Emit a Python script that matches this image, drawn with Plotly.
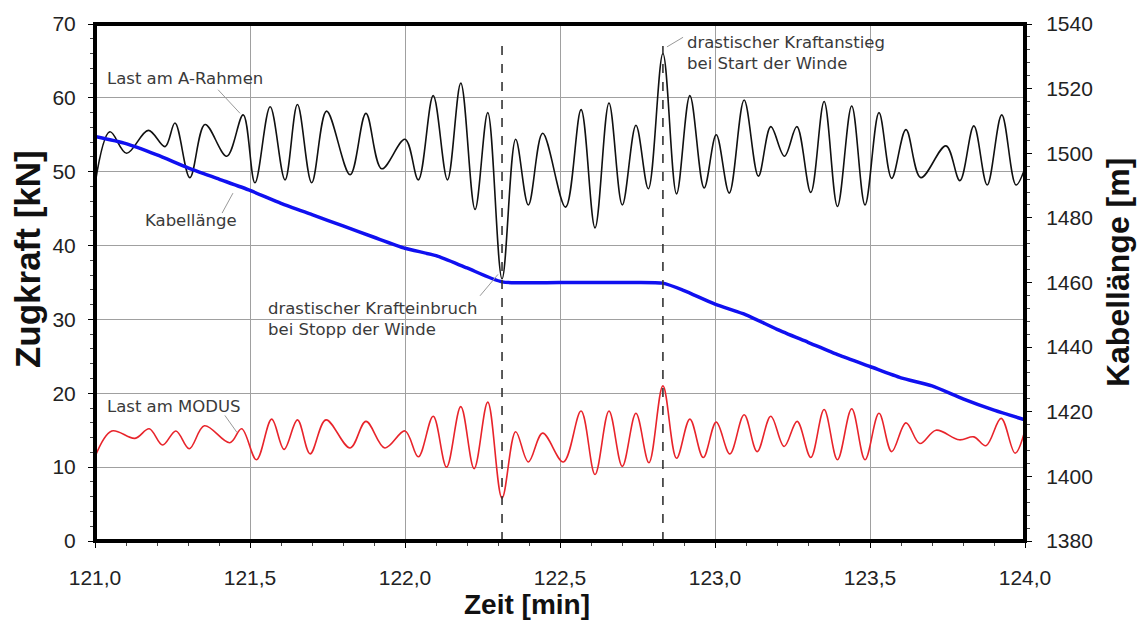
import plotly.graph_objects as go

# ---------------- data ----------------
# Last am A-Rahmen (kN) - extrema
arahmen_t = [121.000, 121.048, 121.102, 121.172, 121.226, 121.258, 121.306, 121.355, 121.425,
             121.478, 121.516, 121.565, 121.613, 121.653, 121.699, 121.747, 121.823, 121.874,
             121.925, 122.000, 122.043, 122.091, 122.137, 122.180, 122.226, 122.267, 122.313,
             122.357, 122.398, 122.444, 122.518, 122.568, 122.613, 122.658, 122.701, 122.745,
             122.785, 122.832, 122.876, 122.919, 122.965, 123.004, 123.046, 123.094, 123.140,
             123.180, 123.224, 123.264, 123.309, 123.352, 123.395, 123.441, 123.484, 123.529,
             123.570, 123.616, 123.664, 123.745, 123.790, 123.835, 123.878, 123.925, 123.971,
             124.000]
arahmen_kn = [48.3, 55.4, 52.5, 55.6, 53.4, 56.6, 49.2, 56.4, 52.1,
              57.7, 48.5, 58.8, 48.9, 59.1, 48.5, 58.2, 49.6, 57.9,
              50.4, 54.4, 48.9, 60.3, 48.9, 62.0, 44.9, 58.0, 35.5,
              54.4, 45.5, 55.2, 45.2, 58.4, 42.4, 59.3, 45.5, 56.3,
              47.7, 66.0, 47.0, 60.3, 47.8, 55.0, 47.1, 59.7, 49.4,
              56.1, 52.1, 56.1, 47.2, 59.5, 45.3, 58.9, 45.5, 58.0,
              49.1, 55.7, 49.2, 53.5, 48.8, 56.2, 48.2, 57.7, 48.2,
              50.5]

# Last am MODUS (kN)
modus_t = [121.000, 121.054, 121.129, 121.175, 121.218, 121.261, 121.304, 121.353, 121.435,
           121.473, 121.521, 121.570, 121.610, 121.653, 121.694, 121.745, 121.823, 121.874,
           121.935, 122.000, 122.043, 122.091, 122.134, 122.180, 122.223, 122.267, 122.313,
           122.357, 122.398, 122.444, 122.511, 122.568, 122.613, 122.658, 122.701, 122.745,
           122.787, 122.832, 122.876, 122.919, 122.962, 123.004, 123.048, 123.094, 123.136,
           123.180, 123.223, 123.265, 123.309, 123.352, 123.395, 123.441, 123.484, 123.529,
           123.570, 123.616, 123.661, 123.713, 123.788, 123.835, 123.874, 123.923, 123.968,
           124.000]
modus_kn = [11.4, 14.9, 13.9, 15.2, 13.0, 14.9, 12.5, 15.6, 13.3,
            15.2, 11.0, 16.5, 12.4, 16.4, 11.8, 16.4, 12.6, 16.2,
            12.6, 14.9, 11.4, 16.9, 10.0, 18.2, 9.8, 18.8, 5.8,
            14.8, 10.7, 14.6, 10.7, 17.6, 9.0, 17.6, 10.1, 17.3,
            10.6, 21.0, 11.2, 16.5, 11.3, 16.1, 11.8, 17.1, 12.1,
            16.9, 12.8, 16.2, 11.3, 17.8, 11.0, 17.9, 11.0, 17.3,
            12.1, 16.0, 13.2, 15.0, 13.7, 14.1, 12.9, 16.6, 11.9,
            15.0]

# Kabellänge (m)
kabel_t = [121.00, 121.10, 121.20, 121.30, 121.40, 121.50, 121.60, 121.70, 121.80, 121.90,
           122.00, 122.10, 122.20, 122.313, 122.50, 122.70, 122.832, 122.90, 123.00, 123.10,
           123.20, 123.30, 123.40, 123.50, 123.60, 123.70, 123.80, 123.90, 124.00]
kabel_m = [1505.2, 1503.0, 1499.5, 1495.5, 1492.0, 1488.5, 1484.5, 1481.0, 1477.5, 1474.0,
           1470.6, 1468.3, 1464.5, 1460.2, 1460.0, 1460.0, 1459.8, 1457.5, 1453.3, 1450.0,
           1445.5, 1441.5, 1437.5, 1434.0, 1430.5, 1428.0, 1424.0, 1420.5, 1417.5]

# events (winch stop / start)
event_t = [122.313, 122.832]

# ticks
x_tickvals = [121.0, 121.5, 122.0, 122.5, 123.0, 123.5, 124.0]
x_ticktext = ["121,0", "121,5", "122,0", "122,5", "123,0", "123,5", "124,0"]
y_tickvals = [0, 10, 20, 30, 40, 50, 60, 70]
y_ticktext = ["0", "10", "20", "30", "40", "50", "60", "70"]
y2_tickvals = [1380, 1400, 1420, 1440, 1460, 1480, 1500, 1520, 1540]
y2_ticktext = ["1380", "1400", "1420", "1440", "1460", "1480", "1500", "1520", "1540"]

# ---------------- figure ----------------
fig = go.Figure()
fig.add_trace(go.Scatter(x=kabel_t, y=kabel_m, mode="lines", yaxis="y2",
                         line=dict(color="#1010f0", width=3.5, shape="spline", smoothing=0.6),
                         name="Kabellänge", showlegend=False))
fig.add_trace(go.Scatter(x=arahmen_t, y=arahmen_kn, mode="lines",
                         line=dict(color="#111111", width=1.6, shape="spline", smoothing=1.0),
                         name="Last am A-Rahmen", showlegend=False))
fig.add_trace(go.Scatter(x=modus_t, y=modus_kn, mode="lines",
                         line=dict(color="#e8242b", width=1.6, shape="spline", smoothing=1.0),
                         name="Last am MODUS", showlegend=False))

tickfont = dict(family="Liberation Sans, Arial, sans-serif", size=21, color="#222")
fig.update_layout(
    width=1140, height=628,
    margin=dict(l=95, r=115, t=22, b=87),
    paper_bgcolor="white", plot_bgcolor="white",
    xaxis=dict(range=[121, 124], tickmode="array", tickvals=x_tickvals, ticktext=x_ticktext,
               showgrid=True, gridcolor="#a0a0a0", gridwidth=1, zeroline=False,
               ticks="outside", ticklen=6, tickcolor="black", tickfont=tickfont,
               ticklabelstandoff=12,
               minor=dict(tickmode="linear", tick0=121, dtick=0.1, ticks="outside",
                          ticklen=4, tickcolor="#444", showgrid=False),
               showline=False),
    yaxis=dict(range=[0, 70], tickmode="array", tickvals=y_tickvals, ticktext=y_ticktext,
               showgrid=True, gridcolor="#a0a0a0", gridwidth=1, zeroline=False,
               ticks="outside", ticklen=6, tickcolor="black", tickfont=tickfont,
               ticklabelstandoff=8,
               minor=dict(tickmode="linear", tick0=0, dtick=2, ticks="outside",
                          ticklen=4, tickcolor="#444", showgrid=False),
               showline=False),
    yaxis2=dict(range=[1380, 1540], overlaying="y", side="right", tickmode="array",
                tickvals=y2_tickvals, ticktext=y2_ticktext, showgrid=False, zeroline=False,
                ticks="outside", ticklen=6, tickcolor="black", tickfont=tickfont,
                ticklabelstandoff=10,
                minor=dict(tickmode="linear", tick0=1380, dtick=4, ticks="outside",
                           ticklen=4, tickcolor="#444", showgrid=False),
                showline=False),
)

shapes = []
for t in event_t:
    shapes.append(dict(type="line", xref="x", yref="y", x0=t, x1=t, y0=0, y1=67.2,
                       line=dict(color="#333", width=1.6, dash="dash"), layer="above"))
# leader lines for labels
leaders = [
    (121.397, 61.1, 121.468, 57.9),
    (121.445, 47.1, 121.410, 44.4),
    (122.242, 33.2, 122.300, 36.1),
    (122.897, 68.2, 122.845, 66.9),
    (121.419, 17.0, 121.458, 14.7),
]
for x0, y0, x1, y1 in leaders:
    shapes.append(dict(type="line", xref="x", yref="y", x0=x0, y0=y0, x1=x1, y1=y1,
                       line=dict(color="#999", width=1), layer="above"))
shapes.append(dict(type="rect", xref="paper", yref="paper", x0=0, x1=1, y0=0, y1=1,
                   line=dict(color="black", width=4), layer="above"))
fig.update_layout(shapes=shapes)

labfont = dict(family="DejaVu Sans, sans-serif", size=16.5, color="#3a3a3a")
labels = [
    (121.032, 62.6, "Last am A-Rahmen"),
    (121.155, 43.4, "Kabellänge"),
    (121.552, 30.1, "drastischer Krafteinbruch<br>bei Stopp der Winde"),
    (122.903, 66.1, "drastischer Kraftanstieg<br>bei Start der Winde"),
    (121.032, 18.2, "Last am MODUS"),
]
for x, y, txt in labels:
    fig.add_annotation(x=x, y=y, xref="x", yref="y", text=txt, showarrow=False,
                       xanchor="left", yanchor="middle", align="left", font=labfont)

titlefont = dict(family="Liberation Sans, Arial, sans-serif", size=28, color="#111")
fig.add_annotation(x=(527 - 95) / 930, y=(541 - 605) / 519, xref="paper", yref="paper",
                   text="<b>Zeit [min]</b>", showarrow=False,
                   xanchor="center", yanchor="middle", font=titlefont)
fig.add_annotation(x=(27 - 95) / 930, y=(541 - 258) / 519, xref="paper", yref="paper",
                   text="<b>Zugkraft [kN]</b>", textangle=-90, showarrow=False,
                   xanchor="center", yanchor="middle", font=dict(titlefont, size=35))
fig.add_annotation(x=(1118 - 95) / 930, y=(541 - 272) / 519, xref="paper", yref="paper",
                   text="<b>Kabellänge [m]</b>", textangle=-90, showarrow=False,
                   xanchor="center", yanchor="middle", font=dict(titlefont, size=32))

fig.write_html("out.html")
